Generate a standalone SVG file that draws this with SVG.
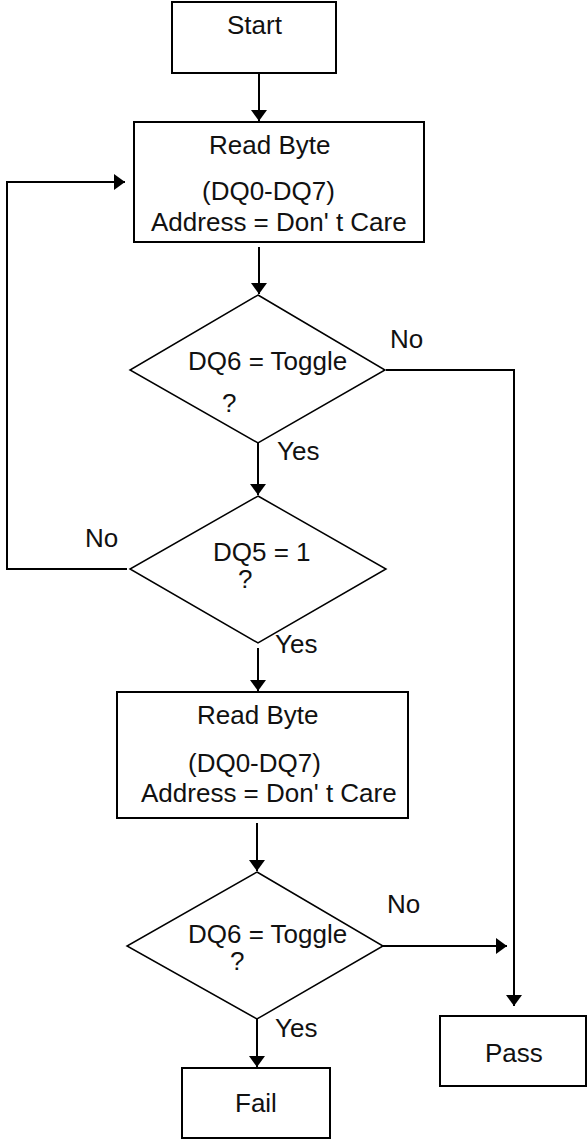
<svg xmlns="http://www.w3.org/2000/svg" width="588" height="1141" viewBox="0 0 588 1141">
  <style>
    .box { fill: #fff; stroke: #000; stroke-width: 2; }
    .dec { fill: #fff; stroke: #000; stroke-width: 1.5; }
    .wire { fill: none; stroke: #000; stroke-width: 2; }
    text { font-family: "Liberation Sans", Arial, sans-serif; font-size: 26px; fill: #111; }
  </style>
  <defs>
    <marker id="arrow" viewBox="0 0 11 16" markerWidth="11" markerHeight="16" refX="11" refY="8" orient="auto" markerUnits="userSpaceOnUse">
      <path d="M0,0 L11,8 L0,16 z" fill="#000"/>
    </marker>
  </defs>
  <rect width="588" height="1141" fill="#fff"/>

  <!-- connectors -->
  <g id="connectors">
    <path class="wire" d="M259,73 V121" marker-end="url(#arrow)"/>
    <path class="wire" d="M259,247 V294" marker-end="url(#arrow)"/>
    <path class="wire" d="M386,370 H514 V1006" marker-end="url(#arrow)"/>
    <path class="wire" d="M258,443 V495" marker-end="url(#arrow)"/>
    <path class="wire" d="M127,569 H7 V182 H125" marker-end="url(#arrow)"/>
    <path class="wire" d="M258,648 V691" marker-end="url(#arrow)"/>
    <path class="wire" d="M257,823 V871" marker-end="url(#arrow)"/>
    <path class="wire" d="M383,946 H507" marker-end="url(#arrow)"/>
    <path class="wire" d="M257,1019 V1067" marker-end="url(#arrow)"/>
  </g>

  <!-- labels on branches -->
  <g id="branch-labels">
    <text x="390" y="348">No</text>
    <text x="277" y="460">Yes</text>
    <text x="85" y="547">No</text>
    <text x="275" y="653">Yes</text>
    <text x="387" y="913">No</text>
    <text x="275" y="1037">Yes</text>
  </g>

  <g id="start">
    <rect class="box" x="172" y="2" width="164" height="71"/>
    <text x="227" y="34">Start</text>
  </g>

  <g id="read-byte-1">
    <rect class="box" x="134" y="122" width="290" height="120"/>
    <text x="209" y="154">Read Byte</text>
    <text x="202" y="200">(DQ0-DQ7)</text>
    <text x="151" y="231">Address = Don' t Care</text>
  </g>

  <g id="check-toggle-1">
    <polygon class="dec" points="258,295 385,370 258,443 130,370"/>
    <text x="188" y="370">DQ6 = Toggle</text>
    <text x="222" y="412">?</text>
  </g>

  <g id="check-dq5">
    <polygon class="dec" points="258,496 386,569 258,643 130,569"/>
    <text x="213" y="561">DQ5 = 1</text>
    <text x="238" y="588">?</text>
  </g>

  <g id="read-byte-2">
    <rect class="box" x="117" y="692" width="291" height="126"/>
    <text x="197" y="724">Read Byte</text>
    <text x="188" y="772">(DQ0-DQ7)</text>
    <text x="141" y="802">Address = Don' t Care</text>
  </g>

  <g id="check-toggle-2">
    <polygon class="dec" points="257,872 383,946 257,1019 127,946"/>
    <text x="188" y="943">DQ6 = Toggle</text>
    <text x="230" y="970">?</text>
  </g>

  <g id="pass">
    <rect class="box" x="440" y="1016" width="146" height="70"/>
    <text x="485" y="1062">Pass</text>
  </g>

  <g id="fail">
    <rect class="box" x="182" y="1068" width="148" height="70"/>
    <text x="235" y="1112">Fail</text>
  </g>
</svg>
